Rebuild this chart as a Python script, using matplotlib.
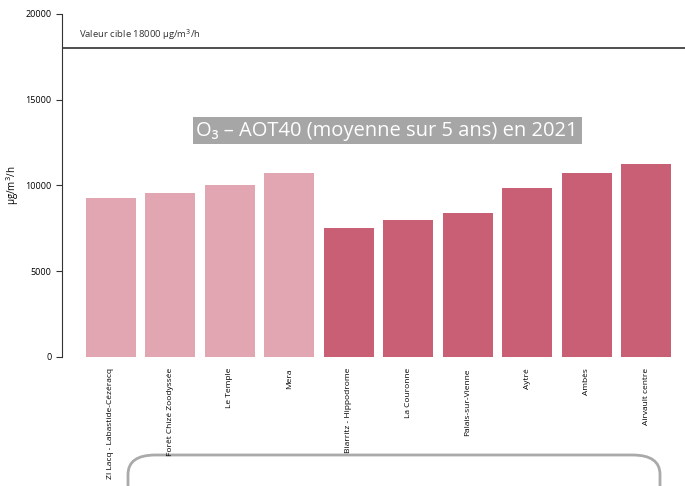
import matplotlib

matplotlib.use("Agg")
import matplotlib.pyplot as plt
from matplotlib.patches import FancyBboxPatch

plt.rcParams["font.family"] = ["Open Sans", "DejaVu Sans"]

stations = [
    "ZI Lacq - Labastide-Cézéracq",
    "Forêt Chizé Zoodyssée",
    "Le Temple",
    "Mera",
    "Biarritz - Hippodrome",
    "La Couronne",
    "Palais-sur-Vienne",
    "Aytré",
    "Ambès",
    "Airvault centre",
]
aot40 = [9300, 9550, 10000, 10750, 7500, 8000, 8400, 9850, 10750, 11250]
is_rural = [True, True, True, True, False, False, False, False, False, False]
target_value = 18000
y_ticks = [0, 5000, 10000, 15000, 20000]

light = "#e2a6b3"
dark = "#c95f74"

fig = plt.figure(figsize=(6.85, 4.86), dpi=100)
ax = fig.add_axes([62 / 685, 129 / 486, 623 / 685, 343 / 486])

colors = [light if r else dark for r in is_rural]
ax.bar(range(len(stations)), aot40, width=0.84, color=colors)
ax.axhline(target_value, color="#404040", linewidth=1.3)
ax.text(0.028, target_value + 380, "Valeur cible 18000 µg/m$^3$/h", transform=ax.get_yaxis_transform(),
        fontsize=6.8, color="#333333", va="bottom")

ax.set_xlim(-0.82, 9.65)
ax.set_ylim(0, 20000)
ax.set_yticks(y_ticks)
ax.set_yticklabels([str(v) for v in y_ticks], fontsize=6.5)
ax.set_xticks(range(len(stations)))
ax.set_xticklabels(stations, rotation=90, fontsize=6.0, va="top")
ax.tick_params(axis="x", length=0, pad=8)
ax.tick_params(axis="y", length=4, width=0.8, color="#333333")
ax.set_ylabel("µg/m$^3$/h", fontsize=7, labelpad=3)
for side in ["top", "right", "bottom"]:
    ax.spines[side].set_visible(False)
ax.spines["left"].set_color("#333333")

ax.text(0.522, 0.66, "O₃ – AOT40 (moyenne sur 5 ans) en 2021", transform=ax.transAxes,
        fontsize=14.5, color="white", ha="center", va="center",
        bbox=dict(boxstyle="square,pad=0.18", facecolor="#a6a6a6", edgecolor="none"))

box = FancyBboxPatch((128 / 685, -0.05), 532 / 685, 31 / 486 + 0.05,
                     boxstyle="round,pad=0,rounding_size=0.04", transform=fig.transFigure,
                     facecolor="white", edgecolor="#aaaaaa", linewidth=2, zorder=-1)
fig.patches.append(box)

fig.savefig("out.png", dpi=100)
